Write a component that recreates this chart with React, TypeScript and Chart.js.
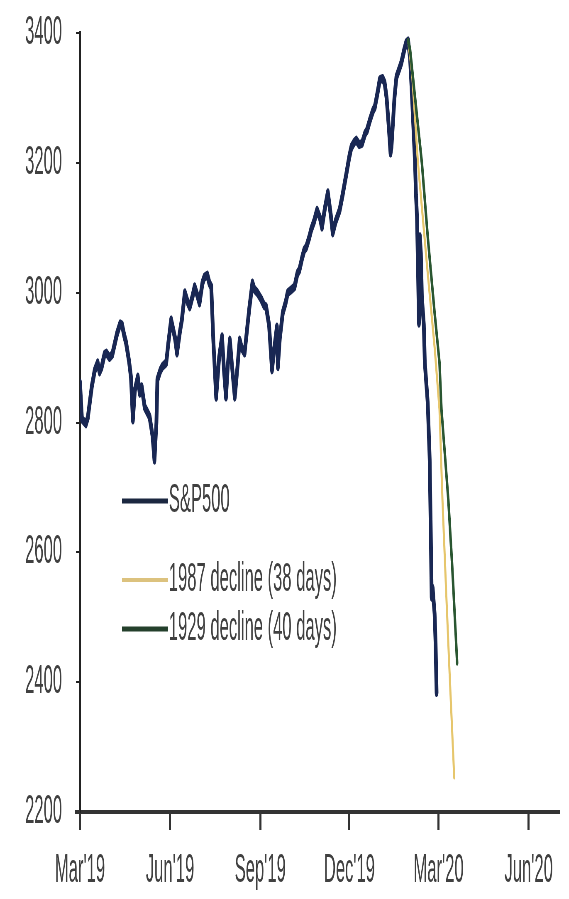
import { useEffect, useRef } from 'react';
import { Chart, registerables } from 'chart.js';

Chart.register(...registerables);

// x values are days since 1 Mar 2019
const tickDays = [0, 92, 184, 275, 366, 458];
const tickLabels = ["Mar'19", "Jun'19", "Sep'19", "Dec'19", "Mar'20", "Jun'20"];

const seriesNames = ['S&P500', '1987 decline (38 days)', '1929 decline (40 days)'];

const spDays = [
  0, 2, 6, 8, 12, 15, 18, 20, 22, 25,
  27, 30, 33, 36, 38, 41, 43, 45, 47, 50,
  52, 54, 56, 59, 61, 63, 66, 69, 71, 74,
  76, 78, 79, 82, 84, 88, 90, 93, 97, 99,
  102, 104, 107, 110, 112, 115, 117, 120, 122, 125,
  127, 130, 132, 134, 136, 139, 142, 145, 147, 149,
  151, 153, 155, 158, 161, 163, 165, 168, 171, 173,
  176, 178, 181, 185, 188, 190, 193, 196, 198, 201,
  202, 204, 207, 210, 212, 216, 219, 222, 224, 227,
  229, 231, 234, 236, 239, 242, 245, 247, 250, 253,
  256, 258, 261, 265, 268, 272, 275, 277, 280, 282,
  285, 288, 291, 293, 296, 299, 301, 304, 306, 309,
  311, 313, 315, 317, 318, 321, 323, 326, 328, 331,
  333, 335, 337, 339, 342, 343, 344, 345, 346, 347,
  348, 349, 351, 352, 355, 357, 358, 359, 360, 362,
  363, 364,
];
const spValues = [
  2861, 2805, 2798, 2808, 2855, 2880, 2892, 2878, 2885, 2905,
  2907, 2900, 2905, 2925, 2938, 2952, 2950, 2935, 2923, 2895,
  2870, 2804, 2850, 2870, 2845, 2855, 2824, 2815, 2809, 2780,
  2742, 2800, 2866, 2880, 2886, 2892, 2920, 2958, 2930, 2907,
  2940, 2958, 3000, 2985, 2978, 2995, 3009, 2995, 2984, 3015,
  3024, 3027, 3015, 3009, 2930, 2839, 2900, 2932, 2880, 2839,
  2890, 2927, 2890, 2839, 2890, 2927, 2915, 2907, 2950, 2978,
  3015, 3005, 3000, 2990, 2980, 2978, 2950, 2881, 2910, 2947,
  2886, 2930, 2969, 2985, 3000, 3005, 3009, 3030, 3035, 3055,
  3066, 3070, 3085, 3097, 3110, 3127, 3115, 3101, 3130, 3154,
  3120, 3092, 3110, 3127, 3150, 3184, 3210, 3224, 3232, 3235,
  3228, 3230, 3245, 3250, 3266, 3280, 3286, 3310, 3328, 3330,
  3323, 3300, 3260, 3215, 3225, 3300, 3332, 3345, 3354, 3374,
  3385, 3388, 3360, 3300, 3200, 3150, 3117, 3040, 2953, 3086,
  3060, 2993, 2950, 2892, 2830, 2742, 2640, 2531, 2545, 2505,
  2460, 2384,
];

const d1987Days = [335, 339, 345, 354, 362, 367, 370, 374, 377, 382];
const d1987Values = [3388, 3338, 3200, 3046, 2916, 2820, 2681, 2532, 2424, 2254];

const d1929Days = [335, 337, 342, 349, 355, 362, 367, 369, 376, 380, 385];
const d1929Values = [3388, 3374, 3301, 3200, 3086, 2969, 2892, 2820, 2681, 2578, 2430];

// the picture is squeezed sideways, so draw wide and squeeze the canvas
const SQUISH = 0.415;
const CANVAS_W = Math.round(569 / SQUISH);
const CANVAS_H = 899;
const FONT = "'Liberation Sans', Arial, sans-serif";
const FONT_SIZE = 40;
const sx = (px: number) => px / SQUISH;

const toPoints = (xs: number[], ys: number[]) => xs.map((x, i) => ({ x, y: ys[i] }));

// legend sits inside the plot, left side; x axis line pokes out a little to the left
const insideLegend = {
  id: 'insideLegend',
  afterDatasetsDraw(chart: any) {
    const { ctx, chartArea } = chart;
    const rows = [501, 580, 629];
    const widths = [5, 4, 5];
    const x0 = sx(122);
    const x1 = sx(168);
    ctx.save();
    ctx.strokeStyle = '#333333';
    ctx.lineWidth = 4;
    ctx.beginPath();
    ctx.moveTo(sx(75), chartArea.bottom);
    ctx.lineTo(chartArea.left, chartArea.bottom);
    ctx.stroke();
    chart.data.datasets.forEach((ds: any, i: number) => {
      ctx.strokeStyle = ds.legendColor || ds.borderColor;
      ctx.lineWidth = widths[i];
      ctx.beginPath();
      ctx.moveTo(x0, rows[i]);
      ctx.lineTo(x1, rows[i]);
      ctx.stroke();
      ctx.fillStyle = '#404040';
      ctx.font = `${FONT_SIZE}px ${FONT}`;
      ctx.textBaseline = 'middle';
      ctx.textAlign = 'left';
      ctx.fillText(ds.label, x1 + 2, rows[i]);
    });
    ctx.restore();
  },
};

export default function App() {
  const chartRef = useRef<HTMLCanvasElement>(null);
  const chartInstance = useRef<Chart | null>(null);

  useEffect(() => {
    if (!chartRef.current) return;
    if (chartInstance.current) chartInstance.current.destroy();
    const ctx = chartRef.current.getContext('2d');
    if (!ctx) return;

    chartInstance.current = new Chart(ctx, {
      type: 'line',
      data: {
        datasets: [
          {
            label: seriesNames[0],
            data: toPoints(spDays, spValues),
            borderColor: '#192753',
            legendColor: '#1b2740',
            borderWidth: 9,
            order: 3,
          },
          {
            label: seriesNames[1],
            data: toPoints(d1987Days, d1987Values),
            borderColor: '#e6c66c',
            legendColor: '#dcc27e',
            borderWidth: 5,
            order: 2,
          },
          {
            label: seriesNames[2],
            data: toPoints(d1929Days, d1929Values),
            borderColor: '#2a5631',
            legendColor: '#24402c',
            borderWidth: 6,
            order: 1,
          },
        ] as any,
      },
      options: {
        animation: false,
        responsive: false,
        devicePixelRatio: 1,
        elements: {
          point: { radius: 0 },
          line: { tension: 0, borderJoinStyle: 'round', borderCapStyle: 'round' },
        },
        layout: { padding: { top: 33, right: CANVAS_W - sx(559), bottom: 0, left: 0 } },
        plugins: {
          legend: { display: false },
          tooltip: { enabled: false },
        },
        scales: {
          x: {
            type: 'linear',
            min: 0,
            max: 489,
            afterBuildTicks: (scale: any) => {
              scale.ticks = tickDays.map(v => ({ value: v }));
            },
            afterFit: (scale: any) => {
              scale.height = CANVAS_H - 812;
              scale.paddingLeft = 0;
              scale.paddingRight = 0;
            },
            ticks: {
              autoSkip: false,
              maxRotation: 0,
              padding: 17,
              color: '#404040',
              font: { family: FONT, size: FONT_SIZE },
              callback: (value: any) => tickLabels[tickDays.indexOf(Number(value))] ?? '',
            },
            grid: {
              drawOnChartArea: false,
              drawTicks: true,
              tickLength: 18,
              lineWidth: 5,
              color: '#333333',
            },
            border: { display: true, color: '#333333', width: 4 },
          },
          y: {
            min: 2200,
            max: 3400,
            afterFit: (scale: any) => {
              scale.width = sx(80);
              scale.paddingTop = 0;
              scale.paddingBottom = 0;
            },
            ticks: {
              stepSize: 200,
              padding: sx(18) - sx(4),
              color: '#404040',
              font: { family: FONT, size: FONT_SIZE },
              callback: (value: any) => String(value),
            },
            grid: {
              drawOnChartArea: false,
              drawTicks: true,
              tickLength: sx(4),
              lineWidth: 2,
              color: '#222222',
            },
            border: { display: true, color: '#222222', width: 4 },
          },
        },
      },
      plugins: [insideLegend],
    });

    return () => {
      if (chartInstance.current) {
        chartInstance.current.destroy();
        chartInstance.current = null;
      }
    };
  }, []);

  return (
    <div
      style={{
        position: 'fixed',
        left: 0,
        top: 0,
        width: 569,
        height: CANVAS_H,
        overflow: 'hidden',
        background: '#ffffff',
      }}
    >
      <canvas
        ref={chartRef}
        width={CANVAS_W}
        height={CANVAS_H}
        style={{
          width: CANVAS_W,
          height: CANVAS_H,
          transform: `scaleX(${SQUISH})`,
          transformOrigin: '0 0',
          filter: 'blur(0.5px)',
        }}
      />
    </div>
  );
}
